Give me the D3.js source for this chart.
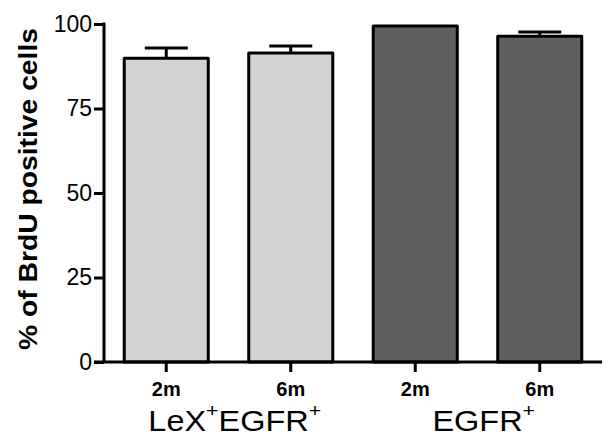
<!DOCTYPE html>
<html>
<head>
<meta charset="utf-8">
<script src="https://cdn.jsdelivr.net/npm/d3@7"></script>
<style>
  body { margin: 0; background: #fff; }
  svg { display: block; font-family: "Liberation Sans", Arial, sans-serif; }
</style>
</head>
<body>
<svg id="chart" width="613" height="443"></svg>
<script>
// data
var barIds = ["a2m", "a6m", "b2m", "b6m"];
var barLabels = ["2m", "6m", "2m", "6m"];
var barValues = [89.9, 91.4, 99.4, 96.4];
var barErrors = [3.0, 2.1, 0, 1.2];
var barGroup = [0, 0, 1, 1];
var groupParts = [["LeX", "+", "EGFR", "+"], ["EGFR", "+"]];
var yTicks = [0, 25, 50, 75, 100];
var yTitle = "% of BrdU positive cells";

var fills = ["#d3d3d3", "#606060"];

var svg = d3.select("#chart");

var x = d3.scaleBand()
    .domain(barIds)
    .range([104, 602])
    .paddingInner(0.325)
    .paddingOuter(0.1625);

var y = d3.scaleLinear()
    .domain([0, 100])
    .range([362, 24]);

// bars
svg.selectAll("rect.bar")
    .data(barIds)
    .enter()
    .append("rect")
    .attr("class", "bar")
    .attr("x", function (d) { return x(d); })
    .attr("y", function (d, i) { return y(barValues[i]); })
    .attr("width", x.bandwidth())
    .attr("height", function (d, i) { return y(0) - y(barValues[i]); })
    .attr("fill", function (d, i) { return fills[barGroup[i]]; })
    .attr("stroke", "#000")
    .attr("stroke-width", 3)
    .attr("stroke-linejoin", "round");

// error bars (upper only)
var capW = 43;
barIds.forEach(function (d, i) {
    if (!barErrors[i]) return;
    var cx = x(d) + x.bandwidth() / 2;
    var top = y(barValues[i] + barErrors[i]);
    svg.append("line")
        .attr("x1", cx).attr("x2", cx)
        .attr("y1", y(barValues[i])).attr("y2", top)
        .attr("stroke", "#000").attr("stroke-width", 3);
    svg.append("line")
        .attr("x1", cx - capW / 2).attr("x2", cx + capW / 2)
        .attr("y1", top).attr("y2", top)
        .attr("stroke", "#000").attr("stroke-width", 3);
});

// y axis
var yAxis = svg.append("g")
    .attr("transform", "translate(104,0)")
    .call(d3.axisLeft(y).tickValues(yTicks).tickSize(10).tickPadding(2));
yAxis.select(".domain").attr("d", "M-1.5," + y(100) + "H0V" + y(0)).attr("stroke-width", 3);
yAxis.selectAll(".tick line").attr("stroke-width", 3);
yAxis.selectAll(".tick text")
    .attr("font-size", 23)
    .attr("fill", "#000");

// x axis
var xAxis = svg.append("g")
    .attr("transform", "translate(0," + y(0) + ")")
    .call(d3.axisBottom(x).tickSize(10).tickFormat(function (d, i) { return barLabels[i]; }).tickPadding(10));
xAxis.select(".domain").attr("d", "M94,0H602").attr("stroke-width", 3);
xAxis.selectAll(".tick line").attr("stroke-width", 3);
xAxis.selectAll(".tick text")
    .attr("font-size", 20)
    .attr("font-weight", "bold")
    .attr("fill", "#000");

// group labels, centred on the text before the trailing superscript
[0, 1].forEach(function (g) {
    var ids = barIds.filter(function (d, i) { return barGroup[i] === g; });
    var cx = (x(ids[0]) + x(ids[ids.length - 1]) + x.bandwidth()) / 2;
    var t = svg.append("text")
        .attr("transform", "translate(" + cx + ",431) scale(1.12,1)")
        .attr("font-size", 29)
        .attr("fill", "#000");
    groupParts[g].forEach(function (p, k) {
        var sup = p === "+";
        t.append("tspan")
            .text(p)
            .attr("font-size", sup ? 19 : null)
            .attr("dy", k === 0 ? 0 : (sup ? -14 : 14));
    });
    var lastW = t.select("tspan:last-child").node().getComputedTextLength();
    var total = t.node().getComputedTextLength();
    t.attr("x", -(total - lastW) / 2);
});

// y title
svg.append("text")
    .attr("transform", "translate(37," + 189 + ") rotate(-90)")
    .attr("text-anchor", "middle")
    .attr("font-size", 25)
    .attr("font-weight", "bold")
    .attr("textLength", 322)
    .attr("lengthAdjust", "spacingAndGlyphs")
    .attr("fill", "#000")
    .text(yTitle);
</script>
</body>
</html>
